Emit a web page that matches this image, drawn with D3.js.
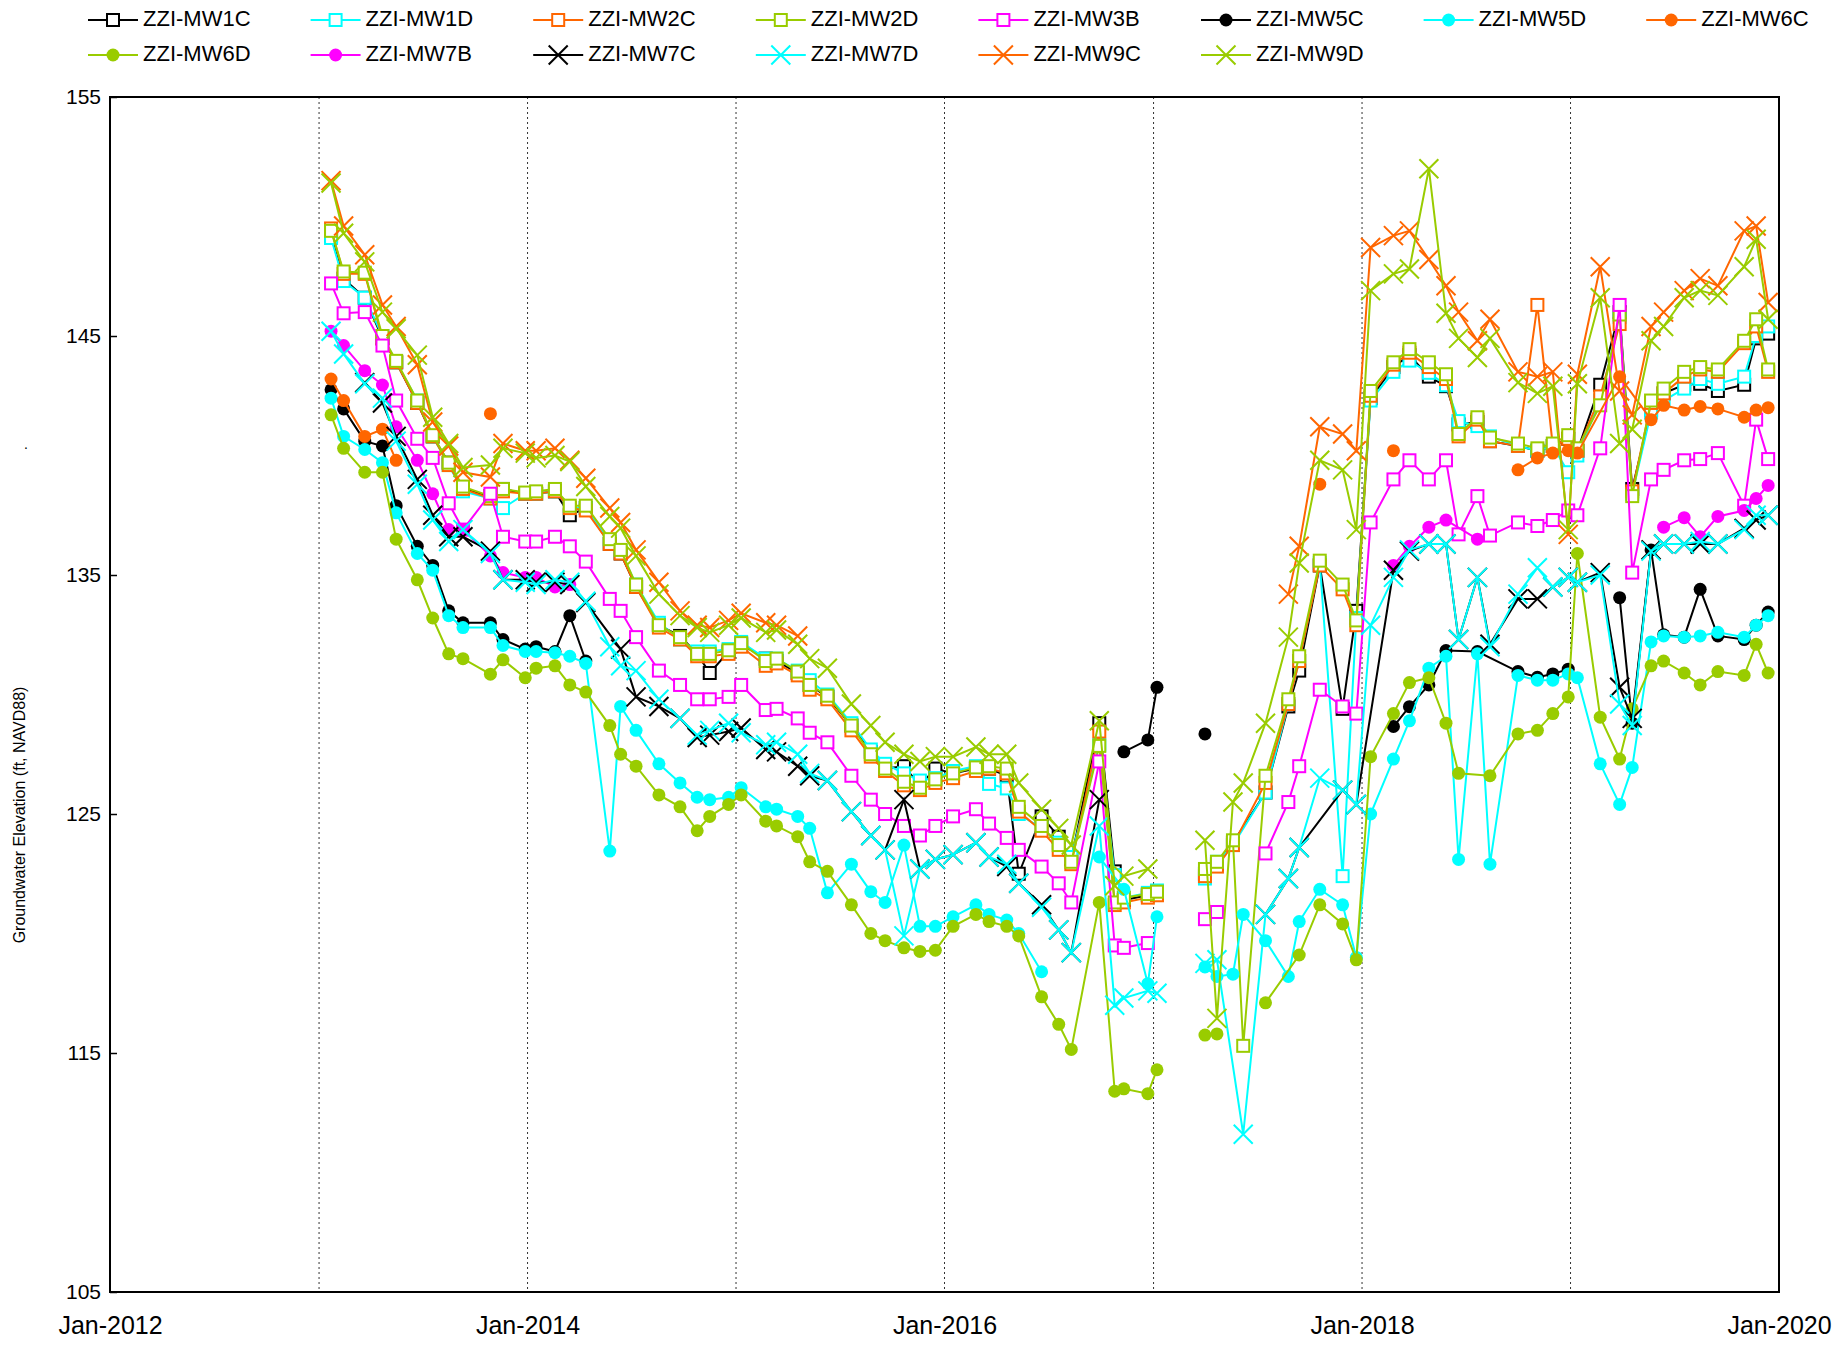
<!DOCTYPE html>
<html><head><meta charset="utf-8">
<script src="https://cdn.jsdelivr.net/npm/d3@7"></script>
<style>body{margin:0;background:#fff;} svg text{font-family:"Liberation Sans",Arial,sans-serif;fill:#000;}</style>
</head><body>
<svg id="chart" width="1838" height="1346"></svg>
<script>
const N = null;
const dates = [
"2013-01-22","2013-02-13","2013-03-22","2013-04-22","2013-05-16","2013-06-22","2013-07-19","2013-08-16","2013-09-10","2013-10-28","2013-11-19","2013-12-28",
"2014-01-16","2014-02-18","2014-03-16","2014-04-13","2014-05-25","2014-06-13","2014-07-10","2014-08-19","2014-09-25","2014-10-25","2014-11-16","2014-12-19",
"2015-01-10","2015-02-22","2015-03-13","2015-04-19","2015-05-10","2015-06-10","2015-07-22","2015-08-25","2015-09-19","2015-10-22","2015-11-19","2015-12-16",
"2016-01-16","2016-02-25","2016-03-19","2016-04-19","2016-05-10","2016-06-19","2016-07-19","2016-08-10","2016-09-28","2016-10-25","2016-11-10","2016-12-22",
"2017-01-07",
"2017-04-01","2017-04-22","2017-05-20","2017-06-07","2017-07-16","2017-08-25","2017-09-13","2017-10-19","2017-11-28","2017-12-22",
"2018-01-16","2018-02-25","2018-03-25","2018-04-28","2018-05-28","2018-06-19","2018-07-22","2018-08-13","2018-10-01","2018-11-04","2018-12-01","2018-12-28",
"2019-01-13","2019-02-22","2019-03-28","2019-04-19","2019-05-22","2019-06-13","2019-07-19","2019-08-16","2019-09-16","2019-11-01","2019-11-22","2019-12-13"];

const MW1C = [149.2,147.4,146.6,144.9,143.9,142.2,140.8,139.7,138.6,138.3,138.6,138.4,
138.4,138.5,137.5,137.8,136.3,135.9,134.5,132.9,132.45,131.7,130.9,131.8,
132.1,131.5,131.4,130.9,130.4,129.9,128.7,127.6,126.9,127.0,126.2,126.9,
126.7,126.9,126.9,126.6,122.5,124.9,124.05,123.1,128.8,122.6,121.4,121.6,
121.7,
122.5,122.9,123.8,N,125.9,129.5,131.0,135.4,129.4,133.5,
142.4,143.7,144.2,143.3,142.9,141.3,141.4,140.6,140.4,140.2,140.4,140.7,
140.2,142.96,146.0,138.6,141.9,142.6,142.96,143.0,142.7,142.96,144.9,145.1];

const MW1D = [149.1,147.3,146.6,145.0,143.9,142.3,140.8,139.6,138.5,138.2,137.8,138.4,
138.4,138.5,137.8,137.8,136.4,136.0,134.6,133.0,132.3,131.8,131.8,131.9,
132.2,131.5,131.5,131.0,130.6,130.0,128.8,127.7,127.1,126.7,126.4,126.5,
126.8,127.0,126.26,126.07,125.0,124.4,123.8,123.2,127.9,122.45,121.5,121.7,
121.8,
122.3,123.0,123.7,N,125.9,129.6,131.4,135.5,122.4,133.2,
142.3,143.5,143.97,143.46,142.94,141.44,141.23,140.8,140.4,140.2,140.4,139.3,
140.0,142.3,145.8,138.4,141.8,142.3,142.8,143.2,143.0,143.3,145.0,145.4];

const MW2C = [149.5,147.6,147.6,144.9,143.9,142.2,140.8,139.6,138.6,138.2,138.5,138.4,
138.4,138.5,137.8,137.7,136.3,135.9,134.5,132.8,132.3,131.6,131.6,131.7,
132.0,131.2,131.3,130.8,130.2,129.8,128.5,127.4,126.8,126.2,126.0,126.3,
126.5,126.8,126.9,126.7,125.1,124.3,123.5,122.9,128.45,121.19,121.3,121.5,
121.6,
122.4,122.8,123.7,N,126.3,129.6,131.4,135.4,134.4,132.9,
142.5,143.8,144.3,143.7,143.2,140.8,141.5,140.6,140.4,146.3,140.4,140.7,
140.2,142.47,145.5,138.5,142.2,142.6,143.3,143.6,143.5,144.7,145.4,143.5];

const MW2D = [149.4,147.7,147.65,145.0,143.96,142.3,140.85,139.7,138.7,138.3,138.6,138.45,
138.5,138.6,137.9,137.9,136.5,136.05,134.6,132.9,132.4,131.7,131.7,131.85,
132.15,131.4,131.5,130.96,130.4,129.95,128.7,127.5,126.9,126.35,126.1,126.45,
126.7,126.95,127.0,126.9,125.3,124.5,123.7,123.0,127.85,121.3,121.5,121.65,
121.75,
122.7,123.0,123.9,115.3,126.6,129.8,131.6,135.6,134.6,133.1,
142.7,143.9,144.45,143.9,143.4,140.9,141.6,140.75,140.5,140.3,140.5,140.85,
140.3,142.1,145.9,138.3,142.3,142.8,143.5,143.7,143.6,144.8,145.7,143.6];

const MW3B = [147.2,145.95,146.0,144.6,142.3,140.7,139.9,138.0,136.9,138.4,136.6,136.4,
136.4,136.6,136.2,135.56,134.0,133.5,132.4,131.0,130.4,129.8,129.8,129.9,
130.4,129.35,129.4,129.0,128.4,128.0,126.6,125.6,125.0,124.5,124.1,124.5,
124.9,125.2,124.6,124.0,123.5,122.8,122.1,121.3,127.2,119.5,119.4,119.6,
N,
120.6,120.9,N,N,123.35,125.5,127.0,130.2,129.5,129.2,
137.2,139.0,139.8,139.0,139.8,136.7,138.3,136.65,137.2,137.05,137.3,137.7,
137.5,140.3,146.3,135.1,139.0,139.4,139.8,139.85,140.1,137.9,141.5,139.85];

const MW5C = [142.75,141.95,140.6,140.4,137.9,136.2,135.4,133.5,133.0,133.0,132.3,131.9,
132.0,131.8,133.3,131.4,N,N,N,N,N,N,N,N,
N,N,N,N,N,N,N,N,N,N,N,N,
N,N,N,N,N,N,N,N,N,N,127.6,128.1,
130.3,
128.35,N,N,N,N,N,N,N,N,N,
N,128.66,129.49,130.4,131.84,N,131.8,N,130.96,130.72,130.86,131.06,
N,N,134.05,128.8,136.05,132.5,132.4,134.4,132.45,132.3,132.9,133.45];

const MW5D = [142.4,140.8,140.25,139.7,137.6,135.9,135.2,133.3,132.8,132.8,132.05,131.8,
131.8,131.75,131.6,131.3,123.45,129.5,128.5,127.1,126.3,125.7,125.6,125.7,
126.1,125.3,125.2,124.9,124.4,121.7,122.9,121.75,121.3,123.7,120.3,120.3,
120.7,121.2,120.8,120.56,120.0,118.4,N,N,123.2,N,121.85,117.9,
120.7,
118.6,118.2,118.3,120.8,119.7,118.2,120.5,121.85,121.2,119.0,
125.0,127.3,128.9,131.1,131.6,123.1,131.7,122.9,130.8,130.6,130.6,130.86,
130.7,127.1,125.4,126.95,132.2,132.45,132.4,132.45,132.6,132.4,132.9,133.3];

const MW6C = [143.2,142.3,140.8,141.1,139.8,N,N,N,N,141.75,N,N,
N,N,N,N,N,N,N,N,N,N,N,N,
N,N,N,N,N,N,N,N,N,N,N,N,
N,N,N,N,N,N,N,N,N,N,N,N,
N,
N,N,N,N,N,N,N,138.8,N,N,
N,140.2,N,N,N,N,N,N,139.4,139.9,140.1,140.2,
140.1,N,143.3,N,141.5,142.1,141.9,142.05,141.95,141.6,141.9,142.0];

const MW6D = [141.7,140.3,139.3,139.3,136.5,134.8,133.2,131.7,131.5,130.85,131.45,130.7,
131.1,131.2,130.4,130.1,128.7,127.5,127.0,125.8,125.3,124.3,124.9,125.4,
125.8,124.7,124.5,124.05,123.0,122.6,121.2,120.0,119.7,119.4,119.25,119.3,
120.3,120.8,120.5,120.3,119.9,117.35,116.2,115.15,121.3,113.4,113.5,113.3,
114.3,
115.75,115.8,N,N,117.1,N,119.1,121.2,120.4,118.9,
127.4,129.2,130.5,130.7,128.8,126.7,N,126.6,128.35,128.5,129.2,129.9,
135.9,129.05,127.3,129.4,131.2,131.4,130.9,130.4,130.96,130.8,132.1,130.9];

const MW7B = [145.2,144.6,143.55,142.95,141.2,139.8,138.4,136.9,136.9,135.8,135.1,134.9,
134.9,134.5,134.6,N,N,N,N,N,N,N,N,N,
N,N,N,N,N,N,N,N,N,N,N,N,
N,N,N,N,N,N,N,N,N,N,N,N,
N,
N,N,N,N,N,N,N,N,N,N,
N,135.4,136.2,137.0,137.3,N,136.5,N,N,N,N,N,
N,N,N,N,N,137.0,137.4,136.6,137.45,137.7,138.2,138.75];

const MW7C = [N,N,143.05,142.2,140.8,139.0,137.5,136.6,136.6,136.0,134.8,134.8,
134.7,134.7,134.6,133.85,N,131.9,129.9,129.5,129.0,128.2,128.3,128.45,
128.6,127.7,127.6,127.0,126.6,126.4,125.1,124.1,123.5,125.6,122.7,123.1,
123.3,123.8,123.2,122.8,122.1,121.2,120.15,119.2,125.6,N,N,N,
N,
N,N,N,N,120.8,122.3,123.6,N,126.0,125.4,
N,135.2,136.0,136.3,136.3,132.3,134.9,132.1,134.0,134.0,134.5,134.9,
134.7,135.1,130.3,129.0,136.05,136.3,136.3,136.3,136.3,136.95,137.3,137.5];

const MW7D = [145.2,144.25,143.0,142.4,140.6,138.8,137.3,136.4,136.9,135.9,134.8,134.7,
134.6,134.8,134.7,133.9,132.0,131.2,131.0,129.8,129.0,128.3,128.5,128.8,
128.4,127.9,128.0,127.5,126.7,126.4,125.1,124.1,123.5,119.9,122.7,123.1,
123.3,123.8,123.2,122.9,122.1,121.1,120.15,119.2,124.5,117.0,117.3,117.6,
117.5,
118.75,118.9,N,111.6,120.8,122.3,123.6,126.5,126.0,125.4,
132.9,134.9,136.05,136.3,136.3,132.3,134.9,132.0,134.2,135.3,134.5,134.9,
134.7,135.0,129.6,128.7,136.0,136.3,136.3,136.4,136.3,136.9,137.5,137.5];

const MW9C = [151.5,149.6,148.4,146.3,145.4,143.8,141.4,140.4,139.3,139.1,140.5,140.2,
140.2,140.3,139.8,139.05,137.8,137.2,136.05,134.7,133.5,132.9,132.8,133.1,
133.4,133.0,132.9,132.45,N,N,N,N,N,N,N,N,
N,N,N,N,N,N,N,N,N,N,N,N,
N,
N,N,N,N,N,134.2,136.2,141.2,140.9,140.2,
148.7,149.2,149.4,148.2,147.1,146.0,144.8,145.7,143.5,143.3,143.5,136.7,
143.4,147.9,142.7,141.7,145.4,146.0,146.9,147.4,147.1,149.4,149.6,146.4];

const MW9D = [151.4,149.3,148.1,146.0,145.3,144.2,141.6,140.5,139.5,139.6,140.3,140.1,
139.9,140.0,139.75,138.7,137.45,136.96,135.8,134.2,133.3,132.8,132.6,132.9,
133.2,132.6,132.7,132.1,131.5,131.1,129.6,128.7,128.0,127.5,127.2,127.4,
127.4,127.8,127.5,127.5,126.3,125.2,124.4,123.7,128.9,122.0,122.4,122.7,
N,
123.9,116.45,125.5,126.3,128.8,132.4,135.5,139.8,139.4,136.9,
146.9,147.6,147.8,152.0,145.95,144.9,144.1,144.9,143.05,142.6,142.9,136.9,
143.0,146.6,140.5,141.1,144.8,145.4,146.6,146.9,146.7,147.9,149.05,145.7];

const seriesNames = ["ZZI-MW1C","ZZI-MW1D","ZZI-MW2C","ZZI-MW2D","ZZI-MW3B","ZZI-MW5C","ZZI-MW5D","ZZI-MW6C","ZZI-MW6D","ZZI-MW7B","ZZI-MW7C","ZZI-MW7D","ZZI-MW9C","ZZI-MW9D"];
const seriesValues = [MW1C,MW1D,MW2C,MW2D,MW3B,MW5C,MW5D,MW6C,MW6D,MW7B,MW7C,MW7D,MW9C,MW9D];
const seriesColors = ["#000000","#00FFFF","#FF6600","#99CC00","#FF00FF","#000000","#00FFFF","#FF6600","#99CC00","#FF00FF","#000000","#00FFFF","#FF6600","#99CC00"];
const seriesMarkers = ["square","square","square","square","square","circle","circle","circle","circle","circle","x","x","x","x"];
const yTicks = [105,115,125,135,145,155];
const xTickDates = ["2012-01-01","2014-01-01","2016-01-01","2018-01-01","2020-01-01"];
const gridYears = ["2013-01-01","2014-01-01","2015-01-01","2016-01-01","2017-01-01","2018-01-01","2019-01-01"];
const yTitle = "Groundwater Elevation (ft, NAVD88)";

const parse = d3.timeParse("%Y-%m-%d");
const L = 110, R = 1779, T = 97, B = 1292;
const x = d3.scaleTime().domain([parse("2012-01-01"), parse("2020-01-01")]).range([L, R]);
const y = d3.scaleLinear().domain([105, 155]).range([B, T]);
const svg = d3.select("#chart");

// gridlines
svg.append("g").selectAll("line").data(gridYears).join("line")
  .attr("x1", d => x(parse(d))).attr("x2", d => x(parse(d)))
  .attr("y1", T).attr("y2", B)
  .attr("stroke", "#333").attr("stroke-width", 1).attr("stroke-dasharray", "2,3");

// axes
const gy = svg.append("g").attr("transform", `translate(${L},0)`)
  .call(d3.axisLeft(y).tickValues(yTicks).tickSize(-7).tickPadding(9).tickFormat(d3.format("d")));
gy.select(".domain").remove();
gy.selectAll(".tick line").attr("stroke", "#000").attr("stroke-width", 1.5);
gy.selectAll("text").attr("font-size", 21).style("font-family", "Liberation Sans, Arial, sans-serif");

const gx = svg.append("g").attr("transform", `translate(0,${B})`)
  .call(d3.axisBottom(x).tickValues(xTickDates.map(parse)).tickSize(0).tickPadding(24).tickFormat(d3.timeFormat("%b-%Y")));
gx.select(".domain").remove();
gx.selectAll("text").attr("font-size", 25).style("font-family", "Liberation Sans, Arial, sans-serif");

// frame
svg.append("rect").attr("x", L).attr("y", T).attr("width", R - L).attr("height", B - T)
  .attr("fill", "none").attr("stroke", "#000").attr("stroke-width", 2);

// y title
svg.append("text").attr("transform", `translate(21,815) rotate(-90)`)
  .attr("text-anchor", "middle").attr("dominant-baseline", "middle")
  .attr("font-size", 16).text(yTitle);
svg.append("text").attr("x", 24).attr("y", 449).attr("font-size", 14).text(".");

function marker(g, type, color, cx, cy) {
  if (type === "square") {
    g.append("rect").attr("x", cx - 6).attr("y", cy - 6).attr("width", 12).attr("height", 12)
      .attr("fill", "#fff").attr("stroke", color).attr("stroke-width", 2);
  } else if (type === "circle") {
    g.append("circle").attr("cx", cx).attr("cy", cy).attr("r", 6.5).attr("fill", color);
  } else {
    const s = 9.5;
    g.append("path").attr("d", `M${cx - s},${cy - s}L${cx + s},${cy + s}M${cx - s},${cy + s}L${cx + s},${cy - s}`)
      .attr("stroke", color).attr("stroke-width", 2).attr("fill", "none");
  }
}

const line = d3.line().x(d => x(d.date)).y(d => y(d.v));
const GAP = 80 * 24 * 3600 * 1000;
const plot = svg.append("g");
seriesValues.forEach((vals, si) => {
  const pts = [];
  vals.forEach((v, i) => { if (v !== null) pts.push({ date: parse(dates[i]), v }); });
  const segs = [];
  let cur = [];
  pts.forEach((p, i) => {
    if (i > 0 && (p.date - pts[i - 1].date) > GAP) { segs.push(cur); cur = []; }
    cur.push(p);
  });
  if (cur.length) segs.push(cur);
  const g = plot.append("g");
  segs.forEach(s => {
    if (s.length > 1) g.append("path").attr("d", line(s)).attr("fill", "none")
      .attr("stroke", seriesColors[si]).attr("stroke-width", 2);
  });
  pts.forEach(p => marker(g, seriesMarkers[si], seriesColors[si], x(p.date), y(p.v)));
});

// legend
const lg = svg.append("g");
seriesNames.forEach((name, i) => {
  const col = i < 8 ? i : i - 8;
  const row = i < 8 ? 0 : 1;
  const x0 = 88 + col * 222.6;
  const yy = row === 0 ? 20 : 55;
  const g = lg.append("g");
  g.append("line").attr("x1", x0).attr("x2", x0 + 50).attr("y1", yy).attr("y2", yy)
    .attr("stroke", seriesColors[i]).attr("stroke-width", 2);
  marker(g, seriesMarkers[i], seriesColors[i], x0 + 25, yy);
  g.append("text").attr("x", x0 + 55).attr("y", yy).attr("dominant-baseline", "middle")
    .attr("font-size", 22).text(name);
});
</script>
</body></html>
